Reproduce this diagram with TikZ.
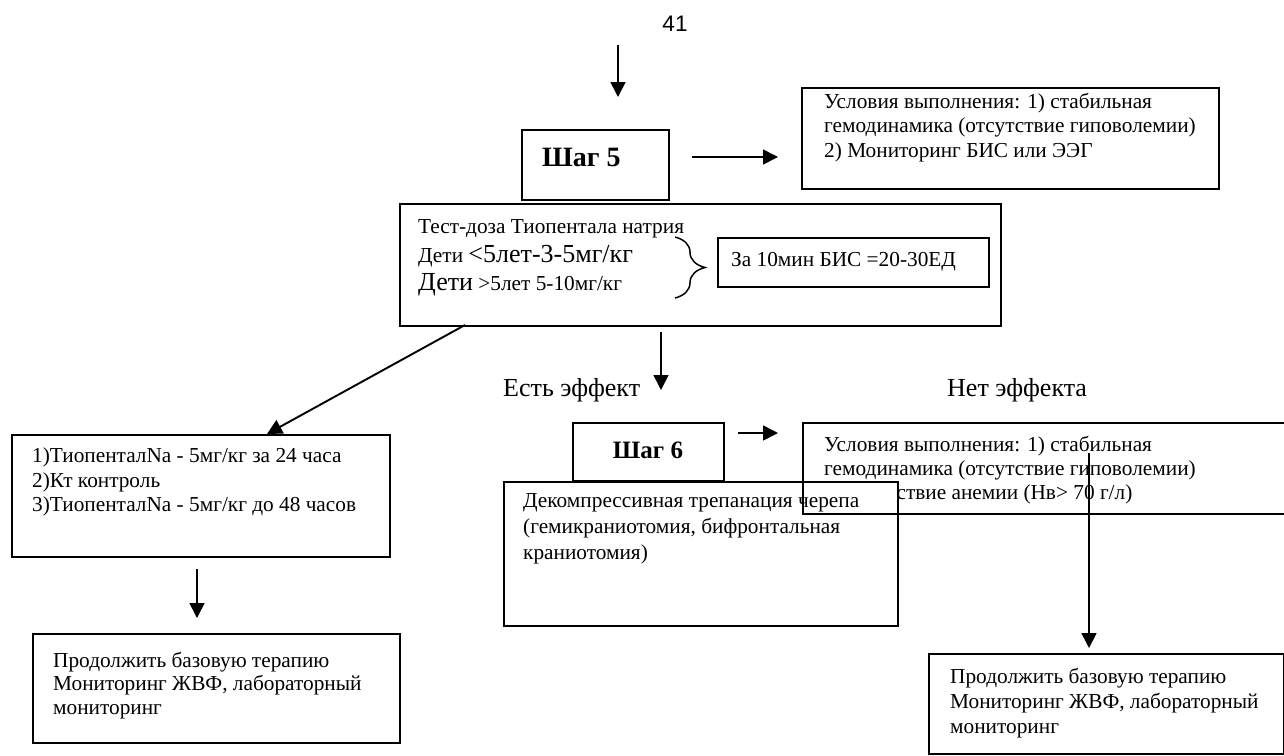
\documentclass[tikz,border=0pt]{standalone}
\usepackage{fontspec}
\setmainfont{Liberation Serif}
\newfontfamily\arialfont{Liberation Sans}
\usetikzlibrary{arrows.meta,decorations.pathreplacing}
\newcommand\fbase{\fontsize{21.3}{24.5}\selectfont}
\newcommand\fbig{\fontsize{26}{29}\selectfont}
\tikzset{
  box/.style={draw, line width=1.8pt, anchor=north west, inner sep=0pt},
  wbox/.style={box, fill=white},
  txt/.style={anchor=north west, inner sep=0pt, align=left, font=\fbase},
  ln/.style={anchor=base west, inner sep=0pt, font=\fbase},
  lbl/.style={anchor=west, inner sep=0pt, font=\fbig},
  arr/.style={line width=1.6pt, -{Triangle[length=15pt,width=15pt]}},
}
\begin{document}
\begin{tikzpicture}[x=1pt,y=-1pt]
\useasboundingbox (0,0) rectangle (1284,755);
\fill[white] (0,0) rectangle (1284,755);
\clip (0,0) rectangle (1284,755);

% page number
\node[inner sep=0pt, font=\arialfont\fontsize{22.5}{26}\selectfont] (pg) at (675,24) {41};

% step 5
\node[box, minimum width=147pt, minimum height=70pt] (s5) at (521,129) {};
\node[anchor=west, inner sep=0pt, font=\fontsize{28}{31}\selectfont\bfseries] (s5t) at (542,157) {Шаг 5};

% conditions 1
\node[box, minimum width=417pt, minimum height=101pt] (u1) at (801,87) {};
\node[txt] (u1t) at (824,93) {Условия выполнения: 1) стабильная\\гемодинамика (отсутствие гиповолемии)\\2) Мониторинг БИС или ЭЭГ};

% test dose box
\node[box, minimum width=601pt, minimum height=122pt] (test) at (399,203) {};
\node[ln] (tl1) at (418,233) {Тест-доза Тиопентала натрия};
\node[ln] (tl2) at (418,262) {Дети {\fbig<5лет-3-5мг/кг}};
\node[ln] (tl3) at (418,290) {{\fbig Дети} >5лет 5-10мг/кг};
\draw[line width=1.5pt, decorate, decoration={brace, amplitude=30pt}] (675,237) -- (675,298);
\node[box, minimum width=271pt, minimum height=49pt] (bis) at (717,237) {};
\node[anchor=west, inner sep=0pt, font=\fbase] (bist) at (731,262) {За 10мин БИС =20-30ЕД};

% effect labels
\node[lbl] (yes) at (503,390) {Есть эффект};
\node[lbl] (no) at (947,390) {Нет эффекта};

% left branch
\node[box, minimum width=378pt, minimum height=122pt] (b1) at (11,434) {};
\node[txt] (b1t) at (32,448) {1)ТиопенталNa - 5мг/кг за 24 часа\\2)Кт контроль\\3)ТиопенталNa - 5мг/кг до 48 часов};
\node[box, minimum width=367pt, minimum height=109pt] (b2) at (32,633) {};
\node[txt, font=\fontsize{21.3}{23.5}\selectfont] (b2t) at (53,652) {Продолжить базовую терапию\\Мониторинг ЖВФ, лабораторный\\мониторинг};

% step 6
\node[box, minimum width=151pt, minimum height=58pt] (s6) at (572,422) {};
\node[inner sep=0pt, font=\fontsize{25}{28}\selectfont\bfseries] (s6t) at (648,450) {Шаг 6};

% conditions 2 (text lies under the decompression box)
\node[txt, font=\fontsize{21.3}{24}\selectfont] (u2t) at (824,436) {Условия выполнения: 1) стабильная\\гемодинамика (отсутствие гиповолемии)\\2) отсутствие анемии (Нв> 70 г/л)};

% decompression box
\node[wbox, minimum width=394pt, minimum height=144pt] (dec) at (503,481) {};
\node[txt, font=\fontsize{21.3}{26}\selectfont] (dect) at (523,493) {Декомпрессивная трепанация черепа\\(гемикраниотомия, бифронтальная\\краниотомия)};

% conditions 2 frame (drawn on top)
\node[box, minimum width=498pt, minimum height=91pt] (u2) at (802,422) {};

% right bottom box
\node[box, minimum width=355pt, minimum height=100pt] (rb2) at (928,653) {};
\node[txt, font=\fontsize{21.3}{25}\selectfont] (rb2t) at (950,668) {Продолжить базовую терапию\\Мониторинг ЖВФ, лабораторный\\мониторинг};

% connectors
\coordinate (topin) at (618,45);
\draw[arr, shorten >=32pt] (topin) -- (topin |- s5.north);
\draw[arr, shorten <=22pt, shorten >=23pt] (s5.east |- 0,157) -- (u1.west |- 0,157);
\coordinate (yesend) at (661,390);
\draw[arr, shorten <=5pt] (test.south -| yesend) -- (yesend);
\coordinate (dstart) at (465,325);
\draw[arr, line width=1.9pt] (dstart) -- (b1.north -| 267,0);
\draw[arr, shorten <=11pt, shorten >=15pt] (b1.south -| 197,0) -- (b2.north -| 197,0);
\draw[arr, shorten <=13pt, shorten >=24pt] (s6.east |- 0,433) -- (u2.west |- 0,433);
\coordinate (lstart) at (1089,453);
\draw[arr, shorten >=5pt] (lstart) -- (lstart |- rb2.north);
\end{tikzpicture}
\end{document}
